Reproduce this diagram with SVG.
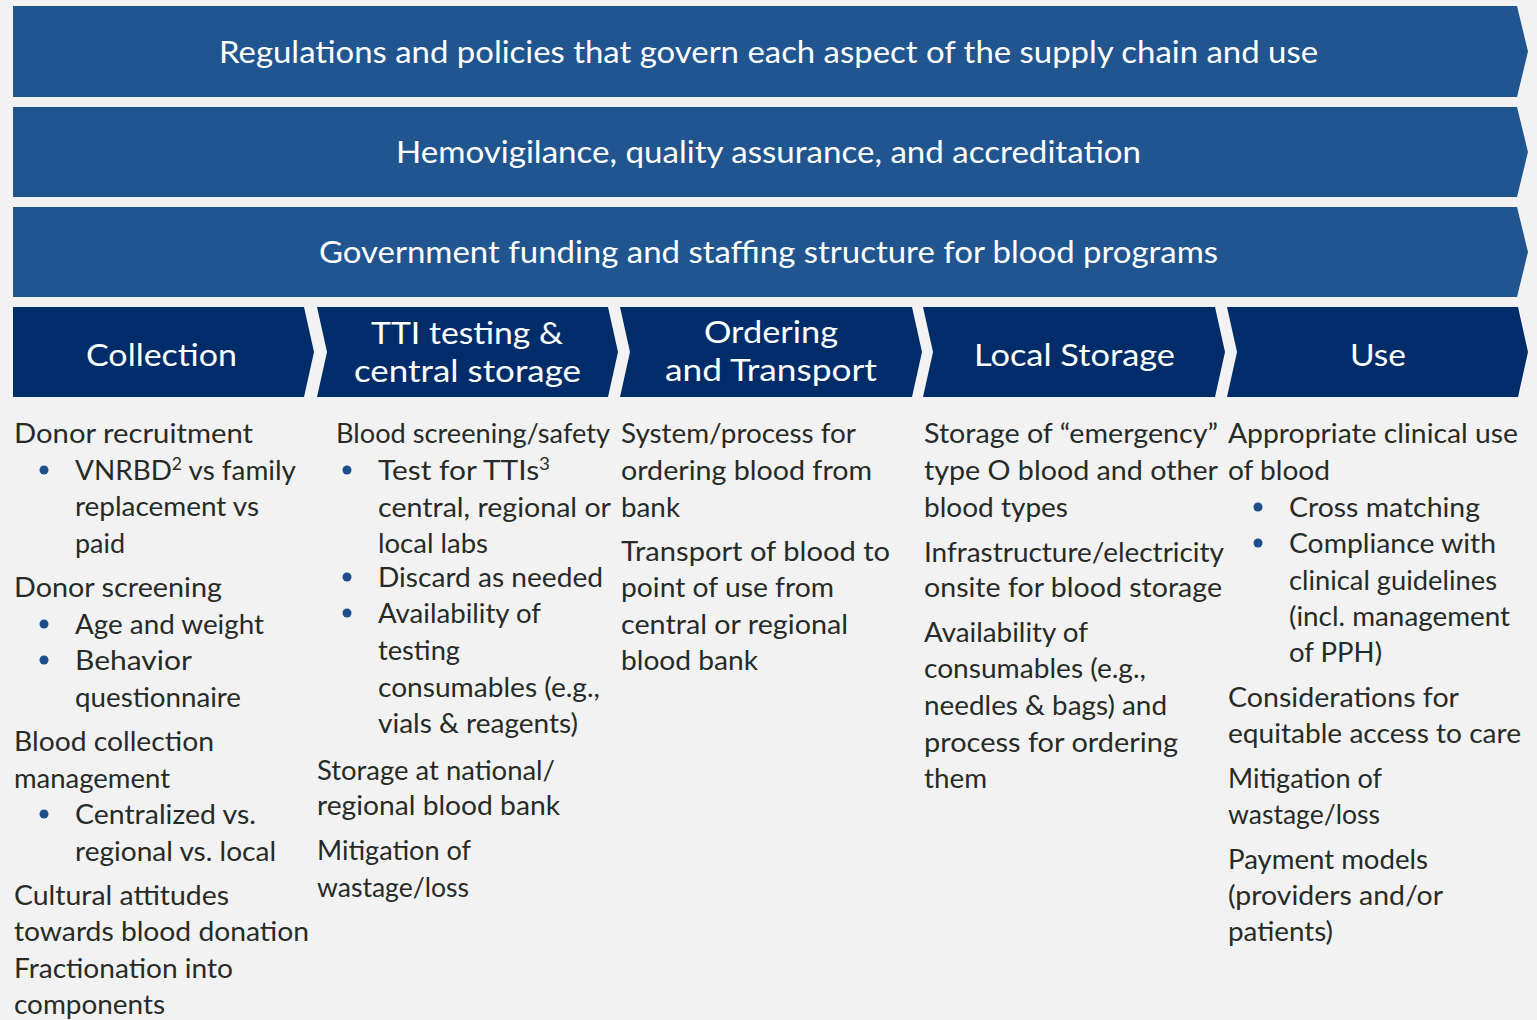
<svg xmlns="http://www.w3.org/2000/svg" width="1537" height="1020" viewBox="0 0 1537 1020">
  <style>
    .banner { fill: #21558f; }
    .stage { fill: #002d69; }
    .head { font-family: Lato, "Liberation Sans", sans-serif; fill: #ffffff; font-size: 31px; }
    .stagehead { font-family: Lato, "Liberation Sans", sans-serif; fill: #ffffff; font-size: 31px; }
    .body { font-family: Lato, "Liberation Sans", sans-serif; fill: #272b27; font-size: 27px; }
    .dot { fill: #1f4e8c; }
    .sup { font-size: 17px; }
  </style>

  <rect width="1537" height="1020" fill="#f2f2f2"/>

  <!-- Cross-cutting layers -->
  <g id="layer-regulations">
    <polygon class="banner" points="13,6 1517,6 1528,51.5 1517,97 13,97"/>
    <text class="head" x="219" y="63" textLength="1099" lengthAdjust="spacingAndGlyphs">Regulations and policies that govern each aspect of the supply chain and use</text>
  </g>
  <g id="layer-hemovigilance">
    <polygon class="banner" points="13,107 1517,107 1528,152 1517,197 13,197"/>
    <text class="head" x="396" y="163" textLength="745" lengthAdjust="spacingAndGlyphs">Hemovigilance, quality assurance, and accreditation</text>
  </g>
  <g id="layer-funding">
    <polygon class="banner" points="13,207 1517,207 1528,252 1517,297 13,297"/>
    <text class="head" x="319" y="263" textLength="899" lengthAdjust="spacingAndGlyphs">Government funding and staffing structure for blood programs</text>
  </g>

  <!-- Supply chain stages -->
  <g id="stage-collection">
    <polygon class="stage" points="13,307 304,307 314,352 304,397 13,397"/>
    <text class="stagehead" x="86" y="366" textLength="151" lengthAdjust="spacingAndGlyphs">Collection</text>
  </g>
  <g id="stage-testing">
    <polygon class="stage" points="317,307 608,307 618,352 608,397 317,397 327,352"/>
    <text class="stagehead" x="371" y="344" textLength="192" lengthAdjust="spacingAndGlyphs">TTI testing &amp;</text>
    <text class="stagehead" x="354" y="382" textLength="227" lengthAdjust="spacingAndGlyphs">central storage</text>
  </g>
  <g id="stage-ordering">
    <polygon class="stage" points="620,307 912,307 922,352 912,397 620,397 630,352"/>
    <text class="stagehead" x="704" y="343" textLength="134" lengthAdjust="spacingAndGlyphs">Ordering</text>
    <text class="stagehead" x="665" y="381" textLength="212" lengthAdjust="spacingAndGlyphs">and Transport</text>
  </g>
  <g id="stage-local-storage">
    <polygon class="stage" points="923,307 1215,307 1225,352 1215,397 923,397 933,352"/>
    <text class="stagehead" x="974" y="366" textLength="201" lengthAdjust="spacingAndGlyphs">Local Storage</text>
  </g>
  <g id="stage-use">
    <polygon class="stage" points="1227,307 1518,307 1528,352 1518,397 1227,397 1237,352"/>
    <text class="stagehead" x="1350" y="366" textLength="56" lengthAdjust="spacingAndGlyphs">Use</text>
  </g>

  <g id="connectors"/>

  <!-- Collection details -->
  <g id="details-collection">
    <text class="body" x="14" y="443" textLength="239" lengthAdjust="spacingAndGlyphs">Donor recruitment</text>
    <circle class="dot" cx="44" cy="470" r="4.5"/>
    <text class="body" x="75" y="480" textLength="221" lengthAdjust="spacingAndGlyphs">VNRBD<tspan class="sup" dy="-10">2</tspan><tspan dy="10"> vs family</tspan></text>
    <text class="body" x="75" y="516" textLength="184" lengthAdjust="spacingAndGlyphs">replacement vs</text>
    <text class="body" x="75" y="553" textLength="50" lengthAdjust="spacingAndGlyphs">paid</text>
    <text class="body" x="14" y="597" textLength="208" lengthAdjust="spacingAndGlyphs">Donor screening</text>
    <circle class="dot" cx="44" cy="624" r="4.5"/>
    <text class="body" x="75" y="634" textLength="189" lengthAdjust="spacingAndGlyphs">Age and weight</text>
    <circle class="dot" cx="44" cy="660" r="4.5"/>
    <text class="body" x="75" y="670" textLength="117" lengthAdjust="spacingAndGlyphs">Behavior</text>
    <text class="body" x="75" y="707" textLength="166" lengthAdjust="spacingAndGlyphs">questionnaire</text>
    <text class="body" x="14" y="751" textLength="200" lengthAdjust="spacingAndGlyphs">Blood collection</text>
    <text class="body" x="14" y="788" textLength="156" lengthAdjust="spacingAndGlyphs">management</text>
    <circle class="dot" cx="44" cy="814" r="4.5"/>
    <text class="body" x="75" y="824" textLength="181" lengthAdjust="spacingAndGlyphs">Centralized vs.</text>
    <text class="body" x="75" y="861" textLength="201" lengthAdjust="spacingAndGlyphs">regional vs. local</text>
    <text class="body" x="14" y="905" textLength="215" lengthAdjust="spacingAndGlyphs">Cultural attitudes</text>
    <text class="body" x="14" y="941" textLength="295" lengthAdjust="spacingAndGlyphs">towards blood donation</text>
    <text class="body" x="14" y="978" textLength="219" lengthAdjust="spacingAndGlyphs">Fractionation into</text>
    <text class="body" x="14" y="1014" textLength="151" lengthAdjust="spacingAndGlyphs">components</text>
  </g>

  <!-- Testing and central storage details -->
  <g id="details-testing">
    <text class="body" x="336" y="443" textLength="274" lengthAdjust="spacingAndGlyphs">Blood screening/safety</text>
    <circle class="dot" cx="347" cy="470" r="4.5"/>
    <text class="body" x="378" y="480" textLength="172" lengthAdjust="spacingAndGlyphs">Test for TTIs<tspan class="sup" dy="-10">3</tspan></text>
    <text class="body" x="378" y="517" textLength="233" lengthAdjust="spacingAndGlyphs">central, regional or</text>
    <text class="body" x="378" y="553" textLength="110" lengthAdjust="spacingAndGlyphs">local labs</text>
    <circle class="dot" cx="347" cy="577" r="4.5"/>
    <text class="body" x="378" y="587" textLength="225" lengthAdjust="spacingAndGlyphs">Discard as needed</text>
    <circle class="dot" cx="347" cy="613" r="4.5"/>
    <text class="body" x="378" y="623" textLength="163" lengthAdjust="spacingAndGlyphs">Availability of</text>
    <text class="body" x="378" y="660" textLength="82" lengthAdjust="spacingAndGlyphs">testing</text>
    <text class="body" x="378" y="697" textLength="222" lengthAdjust="spacingAndGlyphs">consumables (e.g.,</text>
    <text class="body" x="378" y="733" textLength="200" lengthAdjust="spacingAndGlyphs">vials &amp; reagents)</text>
    <text class="body" x="317" y="780" textLength="238" lengthAdjust="spacingAndGlyphs">Storage at national/</text>
    <text class="body" x="317" y="815" textLength="243" lengthAdjust="spacingAndGlyphs">regional blood bank</text>
    <text class="body" x="317" y="860" textLength="154" lengthAdjust="spacingAndGlyphs">Mitigation of</text>
    <text class="body" x="317" y="897" textLength="152" lengthAdjust="spacingAndGlyphs">wastage/loss</text>
  </g>

  <!-- Ordering and transport details -->
  <g id="details-ordering">
    <text class="body" x="621" y="443" textLength="235" lengthAdjust="spacingAndGlyphs">System/process for</text>
    <text class="body" x="621" y="480" textLength="251" lengthAdjust="spacingAndGlyphs">ordering blood from</text>
    <text class="body" x="621" y="517" textLength="59" lengthAdjust="spacingAndGlyphs">bank</text>
    <text class="body" x="621" y="561" textLength="269" lengthAdjust="spacingAndGlyphs">Transport of blood to</text>
    <text class="body" x="621" y="597" textLength="213" lengthAdjust="spacingAndGlyphs">point of use from</text>
    <text class="body" x="621" y="634" textLength="227" lengthAdjust="spacingAndGlyphs">central or regional</text>
    <text class="body" x="621" y="670" textLength="137" lengthAdjust="spacingAndGlyphs">blood bank</text>
  </g>

  <!-- Local storage details -->
  <g id="details-local-storage">
    <text class="body" x="924" y="443" textLength="294" lengthAdjust="spacingAndGlyphs">Storage of “emergency”</text>
    <text class="body" x="924" y="480" textLength="294" lengthAdjust="spacingAndGlyphs">type O blood and other</text>
    <text class="body" x="924" y="517" textLength="144" lengthAdjust="spacingAndGlyphs">blood types</text>
    <text class="body" x="924" y="562" textLength="300" lengthAdjust="spacingAndGlyphs">Infrastructure/electricity</text>
    <text class="body" x="924" y="597" textLength="298" lengthAdjust="spacingAndGlyphs">onsite for blood storage</text>
    <text class="body" x="924" y="642" textLength="164" lengthAdjust="spacingAndGlyphs">Availability of</text>
    <text class="body" x="924" y="678" textLength="222" lengthAdjust="spacingAndGlyphs">consumables (e.g.,</text>
    <text class="body" x="924" y="715" textLength="243" lengthAdjust="spacingAndGlyphs">needles &amp; bags) and</text>
    <text class="body" x="924" y="752" textLength="254" lengthAdjust="spacingAndGlyphs">process for ordering</text>
    <text class="body" x="924" y="788" textLength="63" lengthAdjust="spacingAndGlyphs">them</text>
  </g>

  <!-- Use details -->
  <g id="details-use">
    <text class="body" x="1228" y="443" textLength="290" lengthAdjust="spacingAndGlyphs">Appropriate clinical use</text>
    <text class="body" x="1228" y="480" textLength="102" lengthAdjust="spacingAndGlyphs">of blood</text>
    <circle class="dot" cx="1258" cy="507" r="4.5"/>
    <text class="body" x="1289" y="517" textLength="191" lengthAdjust="spacingAndGlyphs">Cross matching</text>
    <circle class="dot" cx="1258" cy="543" r="4.5"/>
    <text class="body" x="1289" y="553" textLength="207" lengthAdjust="spacingAndGlyphs">Compliance with</text>
    <text class="body" x="1289" y="590" textLength="208" lengthAdjust="spacingAndGlyphs">clinical guidelines</text>
    <text class="body" x="1289" y="626" textLength="221" lengthAdjust="spacingAndGlyphs">(incl. management</text>
    <text class="body" x="1289" y="662" textLength="93" lengthAdjust="spacingAndGlyphs">of PPH)</text>
    <text class="body" x="1228" y="707" textLength="231" lengthAdjust="spacingAndGlyphs">Considerations for</text>
    <text class="body" x="1228" y="743" textLength="293" lengthAdjust="spacingAndGlyphs">equitable access to care</text>
    <text class="body" x="1228" y="788" textLength="154" lengthAdjust="spacingAndGlyphs">Mitigation of</text>
    <text class="body" x="1228" y="824" textLength="152" lengthAdjust="spacingAndGlyphs">wastage/loss</text>
    <text class="body" x="1228" y="869" textLength="200" lengthAdjust="spacingAndGlyphs">Payment models</text>
    <text class="body" x="1228" y="905" textLength="215" lengthAdjust="spacingAndGlyphs">(providers and/or</text>
    <text class="body" x="1228" y="941" textLength="105" lengthAdjust="spacingAndGlyphs">patients)</text>
  </g>
</svg>
